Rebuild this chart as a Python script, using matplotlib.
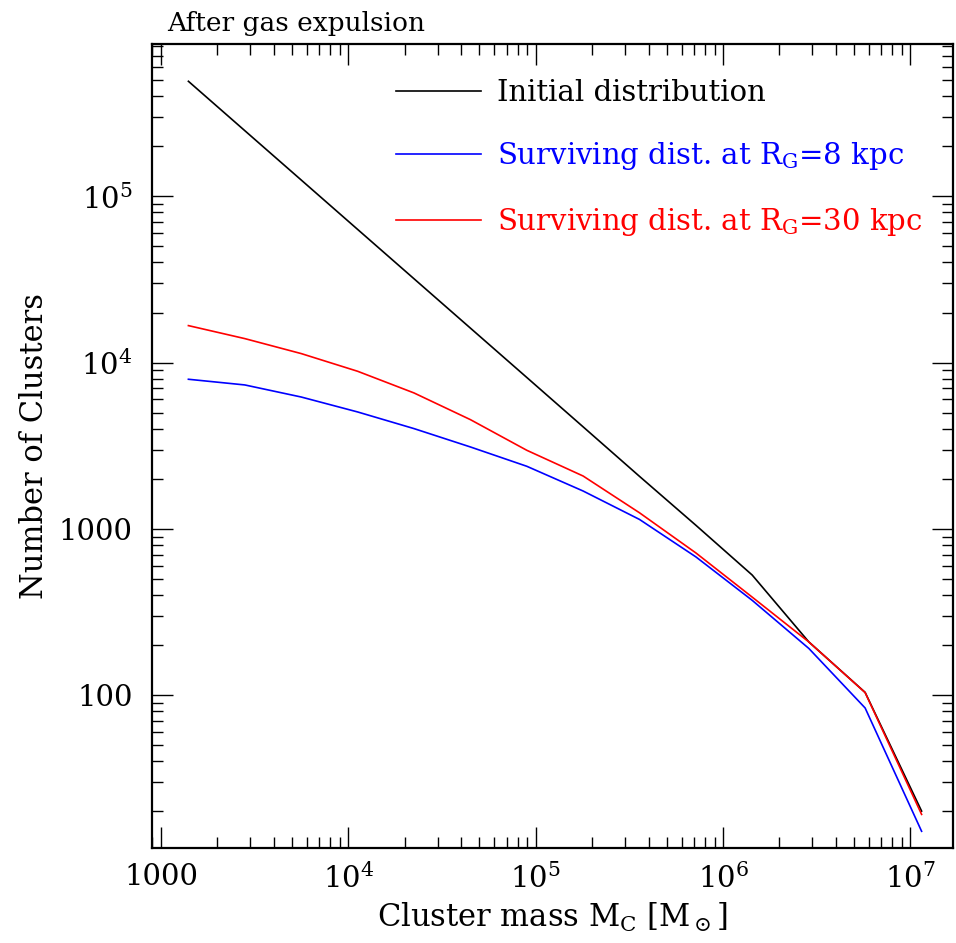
import matplotlib
matplotlib.use('Agg')
import matplotlib.pyplot as plt
from matplotlib.ticker import LogLocator, NullFormatter

# cluster mass bins (Msun)
mass = [1.4e3, 2.8e3, 5.6e3, 1.12e4, 2.24e4, 4.48e4, 8.96e4, 1.79e5,
        3.58e5, 7.17e5, 1.43e6, 2.87e6, 5.73e6, 1.147e7]
# number of clusters per bin
n_initial = [491500, 248100, 125300, 63240, 31930, 16120, 8140, 4110,
             2070, 1050, 528, 209, 104, 20.1]
n_rg8 = [7940, 7340, 6210, 5050, 4010, 3110, 2380, 1690,
         1140, 678, 372, 191, 83.8, 15.2]
n_rg30 = [16690, 13940, 11330, 8870, 6570, 4540, 2970, 2080,
          1250, 716, 389, 209, 103.7, 19.2]

labels = ['Initial distribution',
          r'Surviving dist. at R$_\mathrm{G}$=8 kpc',
          r'Surviving dist. at R$_\mathrm{G}$=30 kpc']
colors = ['black', 'blue', 'red']

xticks = [1e3, 1e4, 1e5, 1e6, 1e7]
xticklabels = ['1000', r'$10^4$', r'$10^5$', r'$10^6$', r'$10^7$']
yticks = [1e2, 1e3, 1e4, 1e5]
yticklabels = ['100', '1000', r'$10^4$', r'$10^5$']

plt.rcParams['font.family'] = 'DejaVu Serif'
plt.rcParams['mathtext.fontset'] = 'dejavuserif'

fig = plt.figure(figsize=(9.56, 9.43), dpi=100)
ax = fig.add_axes([0.159, 0.101, 0.838, 0.852])

for y, c, lab in zip([n_initial, n_rg8, n_rg30], colors, labels):
    ax.plot(mass, y, color=c, lw=1.2, label=lab)

ax.set_xscale('log')
ax.set_yscale('log')
ax.set_xlim(895, 1.69e7)
ax.set_ylim(12.1, 8.2e5)

ax.set_xticks(xticks)
ax.set_xticklabels(xticklabels)
ax.set_yticks(yticks)
ax.set_yticklabels(yticklabels)
ax.xaxis.set_minor_locator(LogLocator(base=10, subs=range(2, 10), numticks=20))
ax.yaxis.set_minor_locator(LogLocator(base=10, subs=range(2, 10), numticks=20))
ax.xaxis.set_minor_formatter(NullFormatter())
ax.yaxis.set_minor_formatter(NullFormatter())

ax.tick_params(which='both', direction='in', top=True, right=True, labelsize=21)
ax.tick_params(which='major', length=15, width=1.0)
ax.tick_params(which='minor', length=8, width=1.0)
ax.tick_params(axis='x', which='major', pad=11)
ax.tick_params(axis='y', which='major', pad=14)
for s in ax.spines.values():
    s.set_linewidth(1.6)

ax.set_xlabel(r'Cluster mass M$_\mathrm{C}$ [M$_\odot$]', fontsize=22, labelpad=5)
ax.set_ylabel('Number of Clusters', fontsize=22, labelpad=6)
ax.text(0.019, 1.0165, 'After gas expulsion', transform=ax.transAxes,
        fontsize=19, va='baseline', ha='left')

ax.legend(loc='upper left', bbox_to_anchor=(0.3046, 0.957), frameon=False,
          fontsize=21, labelcolor='linecolor', handlelength=2.9,
          handletextpad=0.55, labelspacing=1.15, borderpad=0, borderaxespad=0)

fig.savefig('out.png', dpi=100)
